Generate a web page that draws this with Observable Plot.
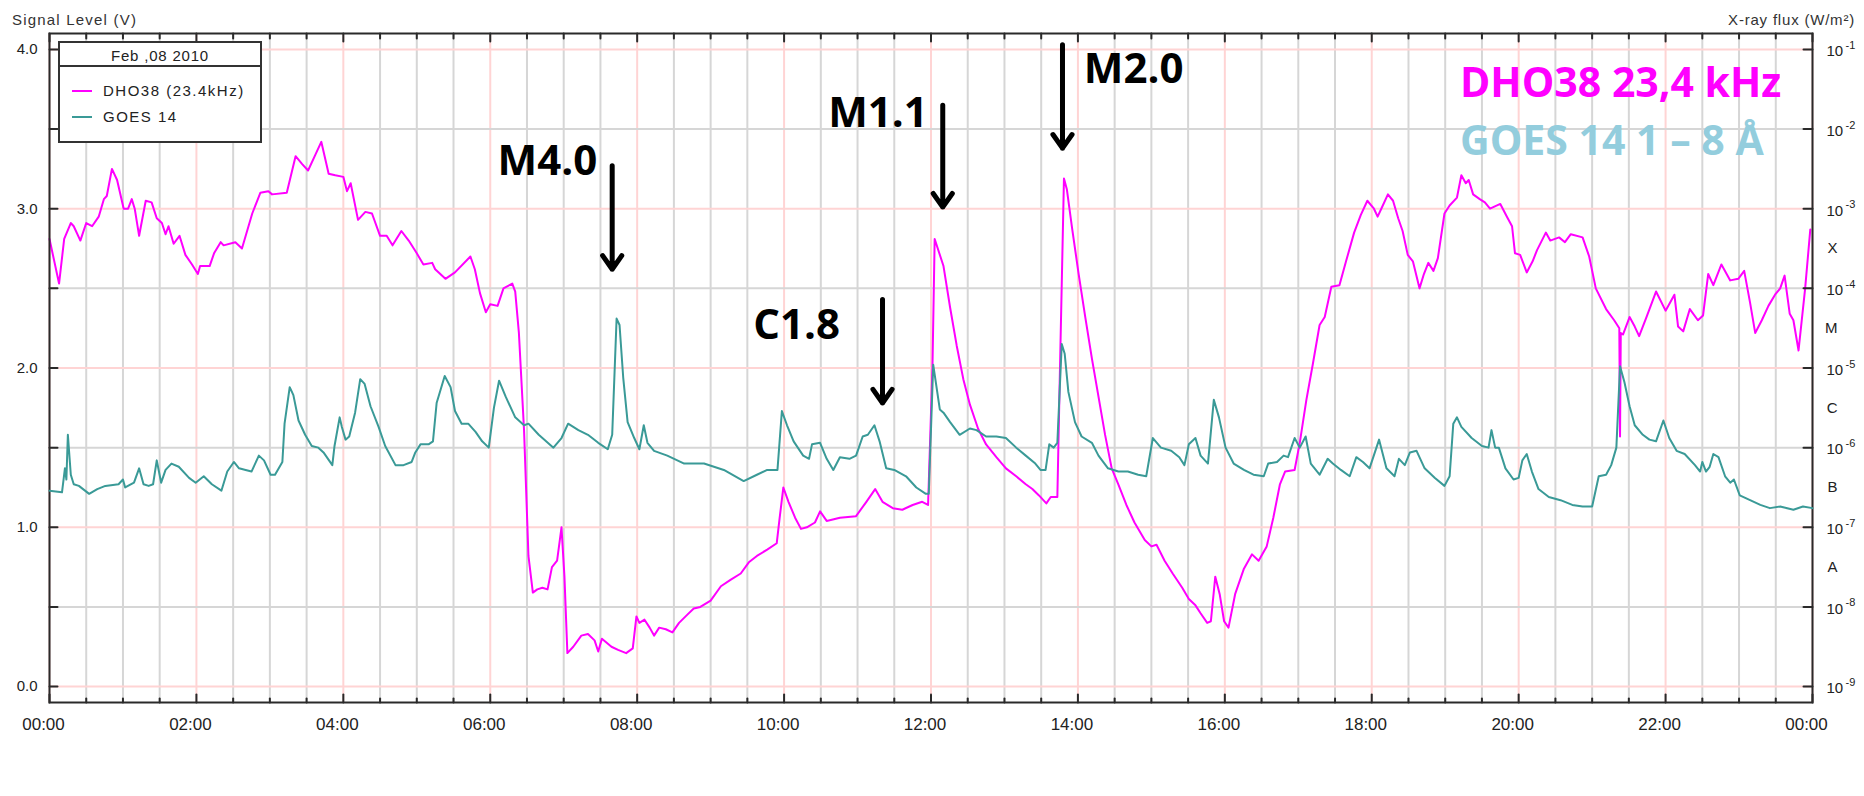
<!DOCTYPE html>
<html>
<head>
<meta charset="utf-8">
<script src="https://cdn.jsdelivr.net/npm/d3@7"></script>
<script src="https://cdn.jsdelivr.net/npm/@observablehq/plot@0.6"></script>
<style>
html, body { margin: 0; padding: 0; background: #fff; }
#wrap { position: relative; width: 1864px; height: 796px; overflow: hidden; }
#wrap > svg { position: absolute; left: 0; top: 0; }
</style>
</head>
<body>
<div id="wrap"></div>
<script>
// ---------------- DATA ----------------
// DHO38 23.4 kHz signal level: [hour of day, volts]
const dho38 = [
[0.00,2.81],[0.13,2.53],[0.20,2.81],[0.29,2.91],[0.33,2.89],[0.42,2.80],[0.50,2.91],[0.58,2.89],[0.67,2.95],[0.74,3.06],
[0.78,3.08],[0.85,3.25],[0.92,3.18],[1.01,3.00],[1.07,3.00],[1.12,3.06],[1.16,3.00],[1.22,2.83],[1.31,3.05],[1.39,3.04],
[1.46,2.94],[1.53,2.91],[1.58,2.84],[1.62,2.89],[1.69,2.78],[1.77,2.83],[1.85,2.71],[1.94,2.65],[2.02,2.59],[2.05,2.64],
[2.18,2.64],[2.24,2.72],[2.33,2.79],[2.37,2.77],[2.53,2.79],[2.62,2.75],[2.76,2.97],[2.87,3.10],[2.98,3.11],[3.03,3.09],
[3.23,3.10],[3.35,3.33],[3.44,3.28],[3.52,3.24],[3.62,3.34],[3.70,3.42],[3.80,3.22],[3.89,3.21],[4.00,3.20],[4.05,3.11],
[4.10,3.16],[4.20,2.93],[4.30,2.98],[4.39,2.97],[4.50,2.83],[4.59,2.83],[4.67,2.77],[4.79,2.86],[4.89,2.80],[5.00,2.72],
[5.09,2.65],[5.21,2.66],[5.25,2.62],[5.39,2.56],[5.52,2.60],[5.73,2.70],[5.79,2.62],[5.86,2.47],[5.94,2.35],[6.00,2.40],
[6.10,2.39],[6.18,2.50],[6.30,2.53],[6.34,2.48],[6.39,2.22],[6.46,1.61],[6.52,0.82],[6.58,0.59],[6.64,0.61],[6.71,0.62],
[6.78,0.61],[6.84,0.75],[6.91,0.79],[6.97,1.00],[7.01,0.69],[7.05,0.21],[7.13,0.25],[7.24,0.32],[7.33,0.33],[7.42,0.29],
[7.47,0.22],[7.52,0.30],[7.65,0.25],[7.74,0.23],[7.85,0.21],[7.94,0.24],[7.99,0.44],[8.03,0.40],[8.10,0.42],[8.17,0.37],
[8.23,0.32],[8.30,0.37],[8.39,0.36],[8.48,0.34],[8.57,0.40],[8.68,0.45],[8.77,0.49],[8.86,0.50],[9.00,0.54],[9.14,0.63],
[9.27,0.67],[9.41,0.71],[9.52,0.78],[9.63,0.82],[9.77,0.86],[9.90,0.90],[9.94,1.06],[9.99,1.25],[10.06,1.16],[10.15,1.06],
[10.23,0.99],[10.31,1.00],[10.42,1.03],[10.49,1.10],[10.58,1.04],[10.76,1.06],[10.98,1.07],[11.12,1.16],[11.24,1.24],[11.34,1.16],
[11.48,1.12],[11.61,1.11],[11.75,1.14],[11.88,1.16],[11.96,1.14],[12.02,2.01],[12.05,2.81],[12.17,2.64],[12.26,2.38],[12.35,2.14],
[12.44,1.93],[12.53,1.77],[12.64,1.62],[12.75,1.52],[12.89,1.44],[13.02,1.37],[13.16,1.32],[13.29,1.27],[13.38,1.24],[13.47,1.20],
[13.57,1.15],[13.63,1.19],[13.72,1.19],[13.75,1.87],[13.81,3.19],[13.85,3.12],[13.92,2.88],[14.01,2.59],[14.10,2.32],[14.19,2.06],
[14.28,1.82],[14.37,1.58],[14.46,1.37],[14.55,1.27],[14.66,1.14],[14.77,1.03],[14.91,0.92],[15.00,0.88],[15.07,0.89],[15.18,0.79],
[15.29,0.71],[15.42,0.62],[15.51,0.55],[15.60,0.51],[15.67,0.46],[15.76,0.40],[15.81,0.41],[15.87,0.69],[15.93,0.58],[15.99,0.41],
[16.05,0.37],[16.14,0.58],[16.26,0.74],[16.37,0.83],[16.46,0.79],[16.57,0.88],[16.66,1.06],[16.75,1.27],[16.82,1.35],[16.95,1.36],
[17.02,1.53],[17.11,1.80],[17.20,2.03],[17.29,2.27],[17.36,2.32],[17.45,2.51],[17.56,2.52],[17.65,2.67],[17.76,2.85],[17.85,2.96],
[17.94,3.05],[18.03,3.00],[18.08,2.95],[18.13,3.00],[18.22,3.09],[18.29,3.05],[18.36,2.94],[18.42,2.86],[18.49,2.71],[18.56,2.67],
[18.65,2.50],[18.71,2.59],[18.77,2.66],[18.84,2.61],[18.90,2.69],[18.99,2.97],[19.06,3.02],[19.16,3.07],[19.22,3.21],[19.28,3.16],
[19.32,3.18],[19.38,3.09],[19.47,3.06],[19.54,3.04],[19.61,3.00],[19.75,3.03],[19.84,2.95],[19.91,2.89],[19.95,2.72],[20.02,2.71],
[20.11,2.60],[20.19,2.67],[20.25,2.74],[20.37,2.85],[20.43,2.80],[20.55,2.82],[20.63,2.79],[20.71,2.84],[20.87,2.82],[20.96,2.70],
[21.05,2.50],[21.19,2.37],[21.30,2.30],[21.37,2.25],[21.38,1.57],[21.39,2.22],[21.42,2.21],[21.51,2.32],[21.58,2.26],[21.64,2.20],
[21.74,2.32],[21.87,2.48],[22.00,2.36],[22.12,2.46],[22.17,2.26],[22.24,2.23],[22.33,2.37],[22.44,2.30],[22.51,2.33],[22.58,2.59],
[22.65,2.52],[22.76,2.65],[22.88,2.55],[22.99,2.56],[23.07,2.61],[23.15,2.41],[23.22,2.22],[23.31,2.30],[23.40,2.39],[23.49,2.46],
[23.56,2.50],[23.62,2.58],[23.69,2.34],[23.74,2.30],[23.81,2.11],[23.90,2.50],[23.97,2.87]
];

// GOES 14 X-ray flux 1-8 Å: [hour of day, W/m²]
const goes14 = [
[0.00,2.88e-7],[0.17,2.75e-7],[0.21,5.50e-7],[0.23,3.98e-7],[0.25,1.45e-6],[0.29,4.57e-7],[0.33,3.47e-7],[0.40,3.31e-7],[0.54,2.63e-7],[0.65,3.02e-7],
[0.76,3.31e-7],[0.94,3.47e-7],[1.00,3.98e-7],[1.03,3.16e-7],[1.15,3.63e-7],[1.22,5.50e-7],[1.28,3.47e-7],[1.35,3.31e-7],[1.41,3.47e-7],[1.46,6.92e-7],
[1.52,3.63e-7],[1.58,5.25e-7],[1.66,6.31e-7],[1.76,5.75e-7],[1.90,4.17e-7],[1.99,3.63e-7],[2.10,4.37e-7],[2.21,3.47e-7],[2.34,2.88e-7],[2.42,5.01e-7],
[2.51,6.61e-7],[2.58,5.50e-7],[2.67,5.25e-7],[2.75,5.01e-7],[2.85,7.94e-7],[2.92,6.92e-7],[3.01,4.57e-7],[3.07,4.57e-7],[3.17,6.61e-7],[3.20,2.00e-6],
[3.27,5.75e-6],[3.32,4.57e-6],[3.39,2.19e-6],[3.48,1.45e-6],[3.57,1.05e-6],[3.66,1.00e-6],[3.73,8.71e-7],[3.85,6.03e-7],[3.88,1.05e-6],[3.95,2.40e-6],
[3.98,1.82e-6],[4.03,1.26e-6],[4.08,1.38e-6],[4.16,2.75e-6],[4.23,7.24e-6],[4.29,6.31e-6],[4.37,3.31e-6],[4.48,1.82e-6],[4.57,1.05e-6],[4.71,6.03e-7],
[4.82,6.03e-7],[4.93,6.61e-7],[4.98,8.71e-7],[5.05,1.10e-6],[5.16,1.10e-6],[5.22,1.20e-6],[5.27,3.63e-6],[5.38,7.94e-6],[5.46,5.75e-6],[5.52,2.88e-6],
[5.61,2.00e-6],[5.70,2.00e-6],[5.80,1.58e-6],[5.89,1.20e-6],[5.98,1.00e-6],[6.05,3.16e-6],[6.12,6.92e-6],[6.21,4.37e-6],[6.34,2.40e-6],[6.46,1.91e-6],
[6.52,2.00e-6],[6.66,1.45e-6],[6.86,1.00e-6],[6.97,1.32e-6],[7.06,2.00e-6],[7.20,1.66e-6],[7.33,1.45e-6],[7.47,1.15e-6],[7.60,9.55e-7],[7.66,1.45e-6],
[7.72,4.17e-5],[7.76,3.47e-5],[7.81,7.59e-6],[7.87,2.09e-6],[7.96,1.32e-6],[8.03,9.55e-7],[8.09,1.91e-6],[8.14,1.15e-6],[8.23,9.12e-7],[8.41,7.94e-7],
[8.64,6.31e-7],[8.91,6.31e-7],[9.18,5.25e-7],[9.45,3.80e-7],[9.63,4.57e-7],[9.77,5.25e-7],[9.91,5.25e-7],[9.97,2.88e-6],[10.04,1.91e-6],[10.13,1.20e-6],
[10.26,7.94e-7],[10.34,7.24e-7],[10.38,1.10e-6],[10.49,1.15e-6],[10.58,7.24e-7],[10.67,5.25e-7],[10.76,7.59e-7],[10.89,7.24e-7],[10.98,7.94e-7],[11.07,1.38e-6],
[11.14,1.45e-6],[11.23,1.91e-6],[11.30,1.20e-6],[11.39,5.50e-7],[11.50,5.25e-7],[11.66,4.37e-7],[11.80,3.16e-7],[11.93,2.63e-7],[11.97,2.63e-7],[12.03,1.10e-5],
[12.12,3.02e-6],[12.17,2.75e-6],[12.26,2.09e-6],[12.39,1.45e-6],[12.53,1.74e-6],[12.62,1.66e-6],[12.75,1.38e-6],[12.89,1.38e-6],[13.02,1.32e-6],[13.16,1.00e-6],
[13.29,7.94e-7],[13.42,6.31e-7],[13.49,5.25e-7],[13.56,5.25e-7],[13.61,1.10e-6],[13.67,1.00e-6],[13.72,1.15e-6],[13.78,2.00e-5],[13.82,1.51e-5],[13.87,5.01e-6],
[13.96,2.09e-6],[14.05,1.38e-6],[14.19,1.15e-6],[14.28,7.94e-7],[14.41,5.50e-7],[14.55,5.01e-7],[14.68,5.01e-7],[14.82,4.57e-7],[14.93,4.37e-7],[15.02,1.32e-6],
[15.13,1.00e-6],[15.27,9.12e-7],[15.38,7.59e-7],[15.45,6.03e-7],[15.51,1.10e-6],[15.60,1.32e-6],[15.67,7.94e-7],[15.77,6.31e-7],[15.85,3.98e-6],[15.92,2.40e-6],
[16.01,1.00e-6],[16.12,6.31e-7],[16.26,5.25e-7],[16.39,4.57e-7],[16.53,4.37e-7],[16.59,6.31e-7],[16.71,6.61e-7],[16.80,7.94e-7],[16.86,7.59e-7],[16.95,1.32e-6],
[17.02,1.00e-6],[17.10,1.38e-6],[17.17,6.31e-7],[17.29,4.57e-7],[17.40,7.24e-7],[17.47,6.31e-7],[17.58,5.25e-7],[17.70,4.37e-7],[17.79,7.59e-7],[17.88,6.61e-7],
[17.97,5.50e-7],[18.10,1.26e-6],[18.20,5.50e-7],[18.31,4.37e-7],[18.37,7.24e-7],[18.45,6.03e-7],[18.52,8.71e-7],[18.61,9.12e-7],[18.72,5.50e-7],[18.86,4.17e-7],
[18.99,3.31e-7],[19.06,4.37e-7],[19.11,2.00e-6],[19.16,2.40e-6],[19.22,1.82e-6],[19.36,1.32e-6],[19.50,1.05e-6],[19.59,1.00e-6],[19.63,1.66e-6],[19.68,1.00e-6],
[19.73,1.00e-6],[19.82,5.50e-7],[19.93,3.98e-7],[20.00,4.17e-7],[20.05,6.92e-7],[20.11,8.32e-7],[20.18,5.01e-7],[20.27,3.02e-7],[20.41,2.40e-7],[20.57,2.19e-7],
[20.73,1.91e-7],[20.87,1.82e-7],[21.00,1.82e-7],[21.09,4.37e-7],[21.19,4.57e-7],[21.26,6.03e-7],[21.33,1.00e-6],[21.38,1.05e-5],[21.44,6.61e-6],[21.51,3.31e-6],
[21.58,1.91e-6],[21.69,1.45e-6],[21.78,1.26e-6],[21.87,1.20e-6],[21.97,2.19e-6],[22.05,1.32e-6],[22.15,9.12e-7],[22.26,8.32e-7],[22.40,6.03e-7],[22.47,5.01e-7],
[22.50,6.61e-7],[22.55,5.01e-7],[22.60,5.75e-7],[22.65,8.32e-7],[22.72,7.59e-7],[22.81,4.37e-7],[22.88,3.63e-7],[22.93,3.98e-7],[23.01,2.51e-7],[23.15,2.19e-7],
[23.29,1.91e-7],[23.42,1.74e-7],[23.56,1.82e-7],[23.74,1.66e-7],[23.87,1.82e-7],[24.00,1.74e-7]
];

// Axis ticks and labels
const hourTicks  = [0, 2, 4, 6, 8, 10, 12, 14, 16, 18, 20, 22, 24];
const hourLabels = ["00:00","02:00","04:00","06:00","08:00","10:00","12:00","14:00","16:00","18:00","20:00","22:00","00:00"];
const halfHourTicks = d3.range(0.5, 24, 0.5).filter(h => h % 2 !== 0);
const voltTicks  = [0, 1, 2, 3, 4];
const voltLabels = ["0.0", "1.0", "2.0", "3.0", "4.0"];
const voltMinor  = [0.5, 1.5, 2.5, 3.5];
const fluxTicks  = [1e-9, 1e-8, 1e-7, 1e-6, 1e-5, 1e-4, 1e-3, 1e-2, 1e-1];
const fluxBase   = "10";
const fluxExponents = ["-9", "-8", "-7", "-6", "-5", "-4", "-3", "-2", "-1"];
const flareClasses   = ["X", "M", "C", "B", "A"];
const flareClassMid  = [3.16e-4, 3.16e-5, 3.16e-6, 3.16e-7, 3.16e-8];

// Flare annotations (label, label anchor time/level, arrow time, arrow top/tip level in volts)
const flareLabels    = ["M4.0", "C1.8", "M1.1", "M2.0"];
const flareLabelT    = [6.10, 9.58, 10.60, 14.08];
const flareLabelV    = [3.21, 2.18, 3.51, 3.79];
const flareArrowT    = [7.66, 11.34, 12.16, 13.79];
const flareArrowTop  = [3.27, 2.43, 3.65, 4.03];
const flareArrowTip  = [2.62, 1.78, 3.01, 3.38];

const legendTitle = "Feb ,08 2010";
const seriesNames = ["DHO38 (23.4kHz)", "GOES 14"];
const seriesColors = ["#ff00ff", "#3a9a97"];

// ---------------- CHART ----------------
const W = 1864, H = 796, ML = 49, MR = 52, MT = 33, MB = 94;
const PINK = "#ffd4d4", GRAY = "#d6d6d6", INK = "#2a2a2a", TXT = "#222";
const tickShape = {draw(ctx, l) { ctx.moveTo(0, 0); ctx.lineTo(0, -l); }};

const dho = dho38.map(([t, v]) => ({t, v}));
const goes = goes14.map(([t, f]) => ({t, f}));
const flares = flareLabels.map((label, i) => ({
  label, tx: flareLabelT[i], ty: flareLabelV[i],
  at: flareArrowT[i], top: flareArrowTop[i], tip: flareArrowTip[i]
}));
const classes = flareClasses.map((c, i) => ({c, f: flareClassMid[i]}));
const fluxLab = fluxTicks.map((f, i) => ({f, e: fluxExponents[i]}));

const base = {
  width: W, height: H, marginLeft: ML, marginRight: MR, marginTop: MT, marginBottom: MB,
  style: {fontFamily: "'Liberation Sans', Arial, sans-serif", background: "transparent", overflow: "visible", maxWidth: "none"}
};

const p1 = Plot.plot({
  ...base,
  x: {domain: [0, 24], axis: null},
  y: {domain: [-0.1, 4.1], axis: null},
  marks: [
    Plot.ruleX(halfHourTicks, {stroke: GRAY, strokeWidth: 2}),
    Plot.ruleX(hourTicks, {stroke: PINK, strokeWidth: 2}),
    Plot.ruleY(voltMinor, {stroke: GRAY, strokeWidth: 2}),
    Plot.ruleY(voltTicks, {stroke: PINK, strokeWidth: 2}),
    Plot.line(dho, {x: "t", y: "v", stroke: seriesColors[0], strokeWidth: 2}),
    // bottom / top ticks
    Plot.vector(halfHourTicks, {x: d => d, frameAnchor: "bottom", length: 4, anchor: "start", rotate: 0, shape: tickShape, stroke: INK, strokeWidth: 2}),
    Plot.vector(hourTicks, {x: d => d, frameAnchor: "bottom", length: 8, anchor: "start", rotate: 0, shape: tickShape, stroke: INK, strokeWidth: 2}),
    Plot.vector(halfHourTicks, {x: d => d, frameAnchor: "top", length: 5, anchor: "start", rotate: 180, shape: tickShape, stroke: INK, strokeWidth: 2}),
    Plot.vector(hourTicks, {x: d => d, frameAnchor: "top", length: 8, anchor: "start", rotate: 180, shape: tickShape, stroke: INK, strokeWidth: 2}),
    // left ticks
    Plot.vector([...voltTicks, ...voltMinor], {y: d => d, frameAnchor: "left", length: 8, anchor: "start", rotate: 90, shape: tickShape, stroke: INK, strokeWidth: 2}),
    Plot.axisX({ticks: hourTicks, tickFormat: d => hourLabels[hourTicks.indexOf(d)], tickSize: 0, tickPadding: 15, fontSize: 17, fill: TXT, dx: -6, label: null}),
    Plot.axisY({ticks: voltTicks, tickFormat: d => voltLabels[voltTicks.indexOf(d)], tickSize: 0, tickPadding: 12, fontSize: 15, fill: TXT, label: null}),
    Plot.frame({stroke: INK, strokeWidth: 2}),
    // flare annotations
    Plot.arrow(flares, {x: "at", y1: "top", y2: "tip", stroke: "#000", strokeWidth: 5, headLength: 5, headAngle: 70}),
    Plot.text(flares, {x: "tx", y: "ty", text: "label", textAnchor: "start", lineAnchor: "bottom",
      fontSize: 42, fontWeight: 700, fontFamily: "'Open Sans', sans-serif", fill: "#000"})
  ]
});

const p2 = Plot.plot({
  ...base,
  x: {domain: [0, 24], axis: null},
  y: {type: "log", domain: [Math.pow(10, -9.2), Math.pow(10, -0.8)], axis: null},
  marks: [
    Plot.line(goes, {x: "t", y: "f", stroke: seriesColors[1], strokeWidth: 2}),
    Plot.vector(fluxTicks, {y: d => d, frameAnchor: "right", length: 9, anchor: "start", rotate: -90, shape: tickShape, stroke: INK, strokeWidth: 2}),
    Plot.text(fluxLab, {y: "f", text: () => fluxBase, frameAnchor: "right", dx: 14, dy: 2, textAnchor: "start", fontSize: 15, fill: TXT}),
    Plot.text(fluxLab, {y: "f", text: "e", frameAnchor: "right", dx: 33, dy: -4, textAnchor: "start", fontSize: 11, fill: TXT}),
    Plot.text(classes, {y: "f", text: "c", frameAnchor: "right", dx: 25, fontSize: 15, fill: TXT})
  ]
});

const wrap = document.getElementById("wrap");
wrap.appendChild(p1);
wrap.appendChild(p2);

// ---------------- TITLES & LEGEND ----------------
const ov = d3.select(wrap).append("svg").attr("width", W).attr("height", H)
  .style("font-family", "'Liberation Sans', Arial, sans-serif");

ov.append("text").attr("x", 12).attr("y", 25).attr("font-size", 15).attr("letter-spacing", 1.2)
  .attr("fill", "#333").text("Signal Level (V)");
ov.append("text").attr("x", 1855).attr("y", 25).attr("font-size", 15).attr("letter-spacing", 0.8)
  .attr("text-anchor", "end").attr("fill", "#333").text("X-ray flux (W/m\u00B2)");

const lg = ov.append("g");
lg.append("rect").attr("x", 59).attr("y", 42).attr("width", 202).attr("height", 100)
  .attr("fill", "#fff").attr("stroke", "#333").attr("stroke-width", 2);
lg.append("line").attr("x1", 59).attr("x2", 261).attr("y1", 66).attr("y2", 66)
  .attr("stroke", "#333").attr("stroke-width", 2);
lg.append("text").attr("x", 160).attr("y", 61).attr("text-anchor", "middle").attr("font-size", 15)
  .attr("letter-spacing", 0.8).attr("fill", "#222").text(legendTitle);
seriesNames.forEach((name, i) => {
  const y = 91 + i * 26;
  lg.append("line").attr("x1", 72).attr("x2", 92).attr("y1", y).attr("y2", y)
    .attr("stroke", seriesColors[i]).attr("stroke-width", 2);
  lg.append("text").attr("x", 103).attr("y", y + 5).attr("font-size", 15).attr("letter-spacing", 1.5)
    .attr("fill", "#222").text(name);
});

ov.append("text").attr("x", 1460).attr("y", 97).attr("font-family", "'Open Sans', sans-serif")
  .attr("font-weight", 700).attr("font-size", 41).attr("fill", "#ff00ff").text("DHO38 23,4 kHz");
ov.append("text").attr("x", 1460).attr("y", 155).attr("font-family", "'Open Sans', sans-serif")
  .attr("font-weight", 700).attr("font-size", 41).attr("fill", "#93cddd").text("GOES 14 1 \u2013 8 \u00C5");
</script>
</body>
</html>
